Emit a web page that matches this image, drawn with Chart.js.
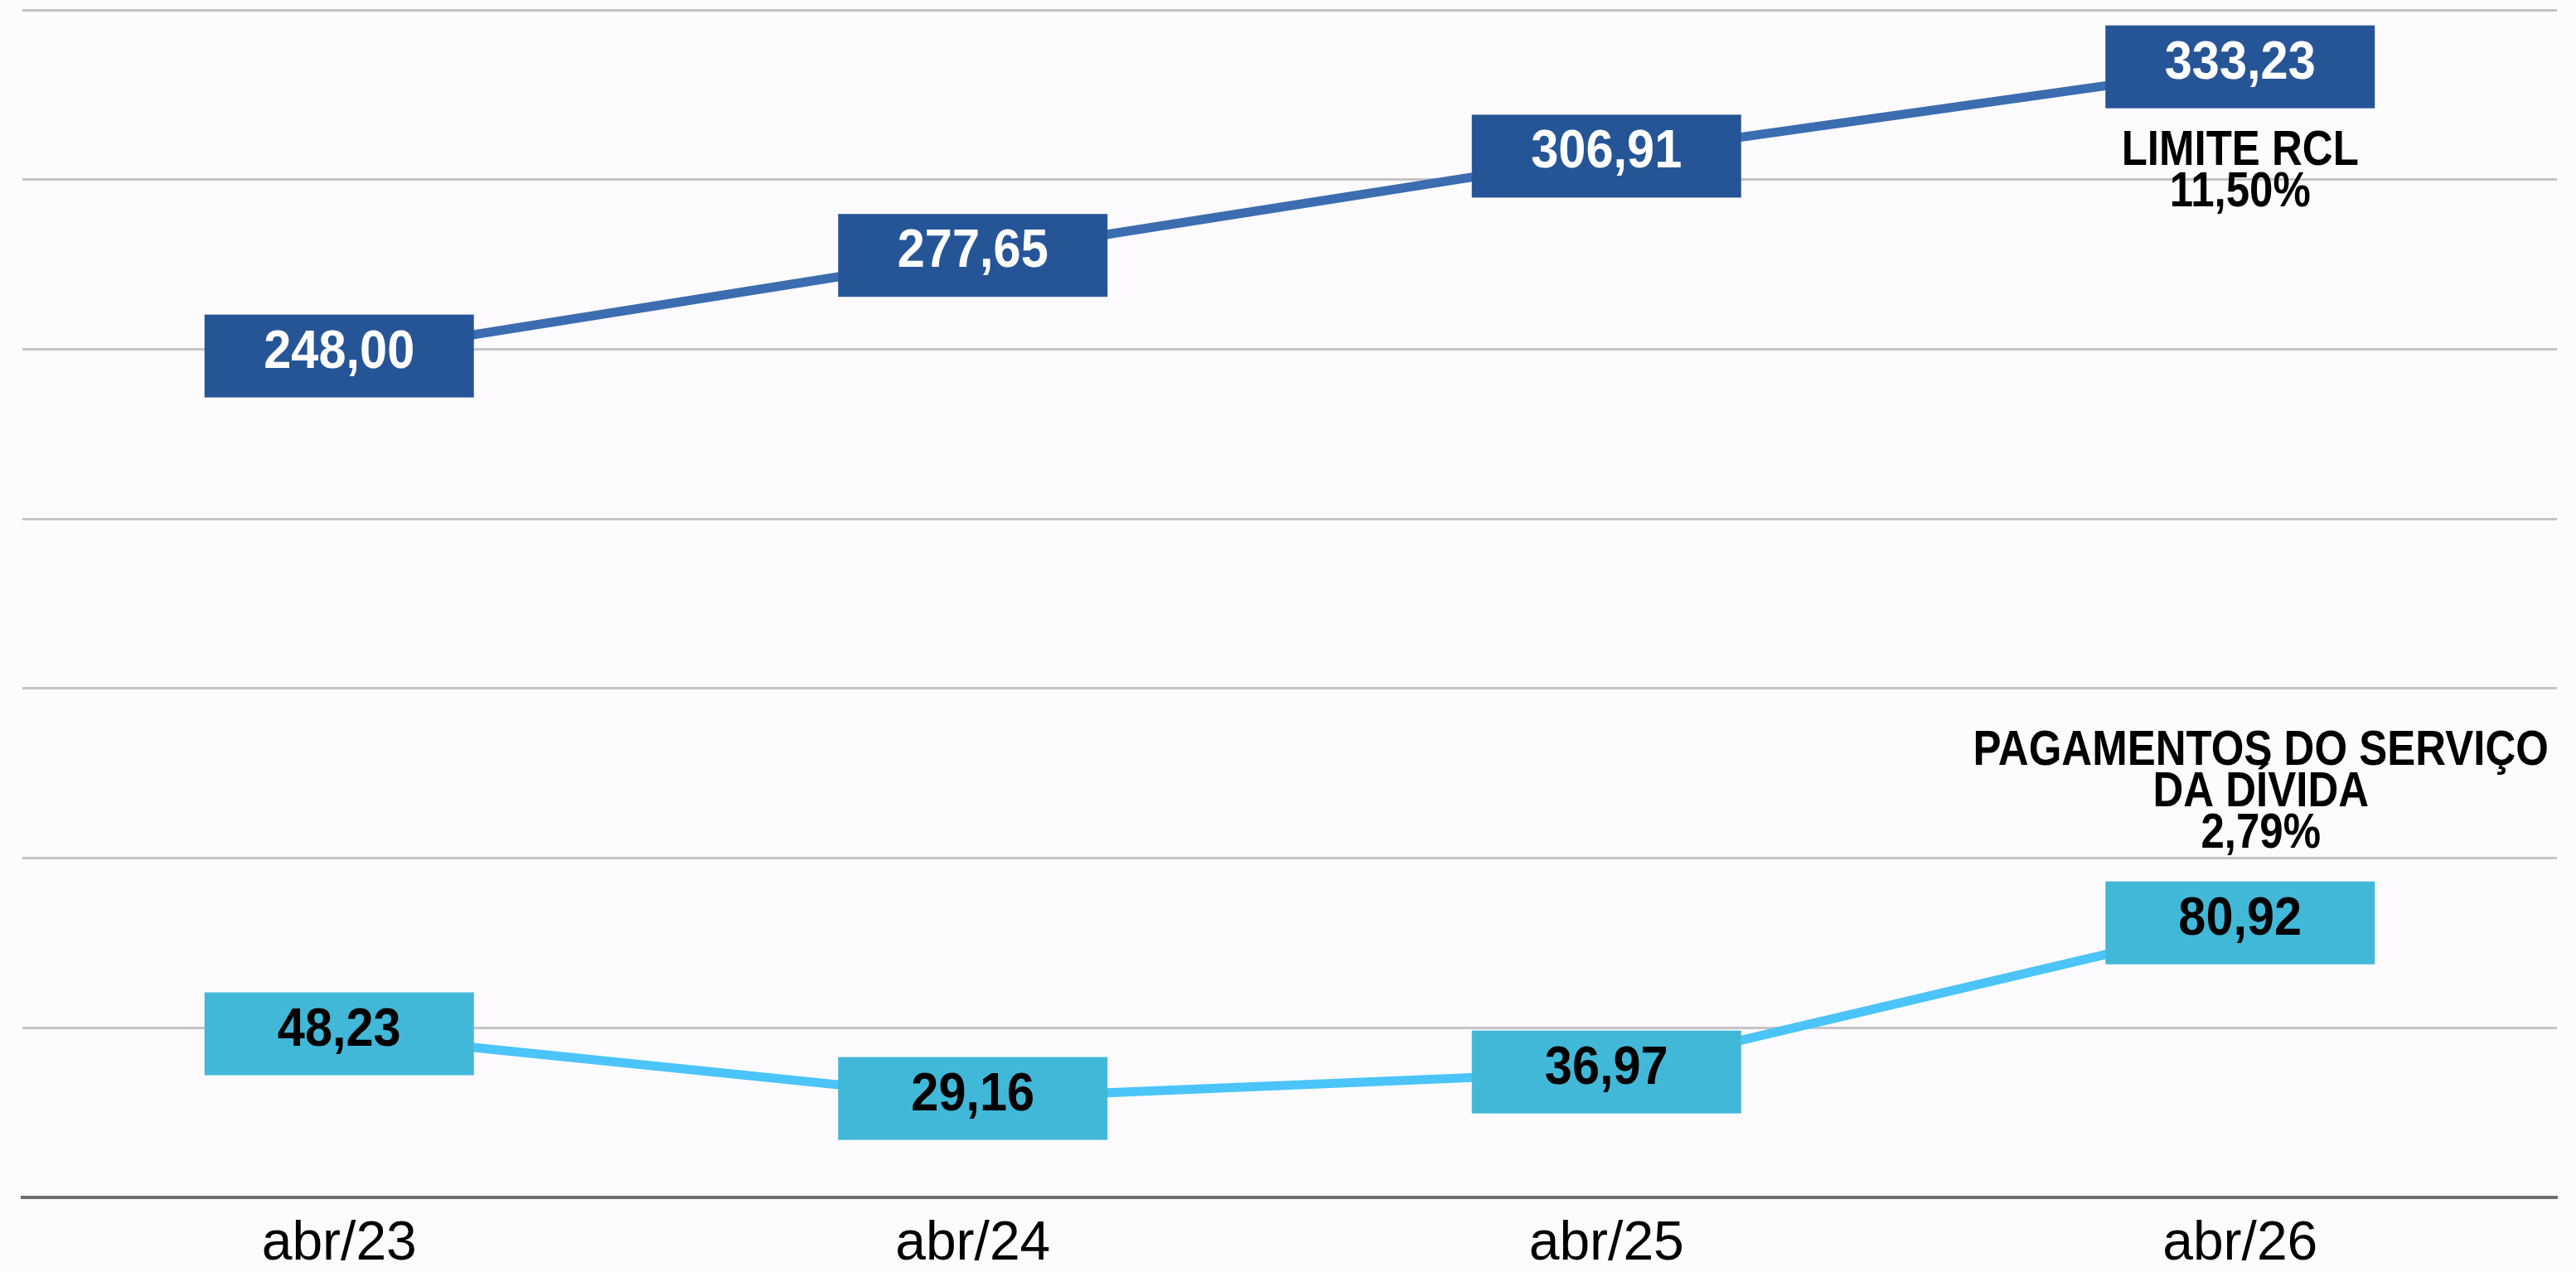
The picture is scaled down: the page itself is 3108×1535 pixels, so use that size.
<!DOCTYPE html>
<html lang="pt-BR">
<head>
<meta charset="utf-8">
<title>Limite RCL x Pagamentos do Serviço da Dívida</title>
<script src="https://cdn.jsdelivr.net/npm/chart.js@4.4.1/dist/chart.umd.min.js"></script>
<style>
    html, body { margin: 0; padding: 0; background: #fdfbfd; }
    #wrap { width: 3108px; height: 1535px; position: relative; }
</style>
</head>
<body>
<div id="wrap"><canvas id="divChart"></canvas></div>
<script>
// Dados do gráfico
const categories = ['abr/23', 'abr/24', 'abr/25', 'abr/26'];
const limiteRcl = [248.00, 277.65, 306.91, 333.23];
const pagamentosDivida = [48.23, 29.16, 36.97, 80.92];
const yMin = 0;
const yMax = 350;
const yStep = 50;
const limiteNote = ['LIMITE RCL', '11,50%'];
const pagamentosNote = ['PAGAMENTOS DO SERVIÇO', 'DA DÍVIDA', '2,79%'];

const fmt = v => v.toFixed(2).replace('.', ',');

// Caixas de valores + textos das séries
const boxLabels = {
    id: 'boxLabels',
    afterDatasetsDraw(chart) {
        const ctx = chart.ctx;
        ctx.save();
        chart.data.datasets.forEach((ds, i) => {
            const meta = chart.getDatasetMeta(i);
            meta.data.forEach((pt, j) => {
                const w = 325, h = 100;
                ctx.fillStyle = ds.boxColor;
                ctx.fillRect(pt.x - w / 2, pt.y - h / 2, w, h);
                ctx.fillStyle = ds.textColor;
                ctx.font = 'bold 64px "Liberation Sans", Arial, sans-serif';
                ctx.textAlign = 'center';
                ctx.textBaseline = 'alphabetic';
                const txt = fmt(ds.data[j]);
                ctx.fillText(txt, pt.x, pt.y + 14, ctx.measureText(txt).width * 0.93);
            });

            // nota da série junto ao último ponto
            const last = meta.data[meta.data.length - 1];
            const lines = ds.note;
            ctx.fillStyle = '#000';
            ctx.font = 'bold 60px "Liberation Sans", Arial, sans-serif';
            ctx.textAlign = 'center';
            ctx.textBaseline = 'middle';
            lines.forEach((line, k) => {
                let y;
                if (ds.noteBelow) {
                    y = last.y + 102 + k * 50;
                } else {
                    y = last.y - 107 - (lines.length - 1 - k) * 50;
                }
                const mw = ctx.measureText(line).width * 0.85;
                ctx.fillText(line, last.x + ds.noteShift, y, mw);
            });
        });
        ctx.restore();
    }
};

const divCtx = document.getElementById('divChart').getContext('2d');
const divChart = new Chart(divCtx, {
    type: 'line',
    data: {
        labels: categories,
        datasets: [{
            label: limiteNote.join(' '),
            data: limiteRcl,
            borderColor: '#3b6db0',
            borderWidth: 11,
            pointRadius: 0,
            tension: 0,
            boxColor: '#265597',
            textColor: '#ffffff',
            note: limiteNote,
            noteBelow: true,
            noteShift: 0
        }, {
            label: pagamentosNote.join(' '),
            data: pagamentosDivida,
            borderColor: '#4bc4f9',
            borderWidth: 11,
            pointRadius: 0,
            tension: 0,
            boxColor: '#42b8d8',
            textColor: '#000000',
            note: pagamentosNote,
            noteBelow: false,
            noteShift: 25
        }]
    },
    options: {
        responsive: true,
        maintainAspectRatio: false,
        animation: false,
        layout: {
            padding: { left: 27, right: 23, top: 12, bottom: 0 }
        },
        plugins: {
            legend: { display: false },
            title: { display: false },
            tooltip: { enabled: false }
        },
        scales: {
            y: {
                min: yMin,
                max: yMax,
                ticks: { stepSize: yStep, display: false },
                border: { display: false },
                grid: {
                    drawTicks: false,
                    lineWidth: 3,
                    color: c => c.tick && c.tick.value === 0 ? '#6f6d71' : '#c6c4c8'
                }
            },
            x: {
                offset: true,
                grid: { display: false, drawTicks: false, offset: true },
                border: { display: true, color: '#6f6d71', width: 4 },
                ticks: {
                    color: '#000',
                    padding: 24,
                    font: { family: '"Liberation Sans", Arial, sans-serif', size: 66, lineHeight: 1.0 }
                },
                afterFit: scale => { scale.height = 90; }
            }
        }
    },
    plugins: [boxLabels]
});
</script>
</body>
</html>
